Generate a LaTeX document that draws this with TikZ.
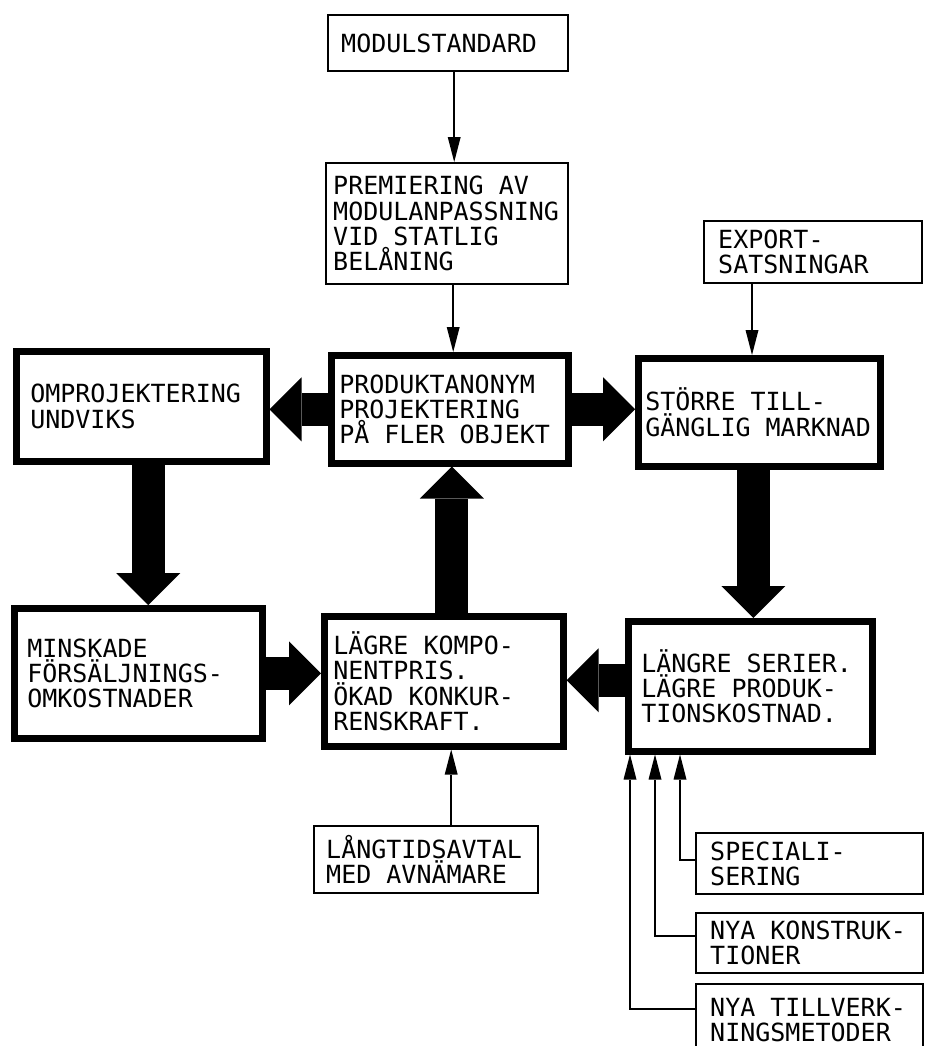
\documentclass[tikz,border=0pt]{standalone}
\usepackage{fontspec}
\newfontfamily\boxfont{DejaVu Sans Mono}
\usetikzlibrary{arrows.meta}
\newcommand\boxtext{\boxfont\fontsize{25}{25.3}\selectfont\spaceskip=15.05pt\relax}

\tikzstyle{box} = [draw,line width=2.4pt,anchor=north west,align=flush left,inner ysep=4pt,font=\boxtext]
\tikzstyle{bigbox} = [box,line width=6.5pt]
\tikzstyle{fat} = [line width=33pt,-{Triangle[length=32pt,width=64pt,line width=0pt]}]
\tikzstyle{feed} = [line width=1.6pt,-{Triangle[length=25pt,width=13pt,line width=0pt]}]

\begin{document}
\begin{tikzpicture}[x=1pt,y=-1pt]
\useasboundingbox (0,0) rectangle (924,1046);

% boxes
\node[box,inner xsep=13pt,text width=214pt,minimum height=56pt] (modul) at (327,14) {MODULSTANDARD};
\node[box,inner xsep=7pt,text width=228pt,minimum height=121pt] (prem) at (325,162) {PREMIERING AV\\MODULANPASSNING\\VID STATLIG\\BELÅNING};
\node[box,inner xsep=14pt,text width=190pt,minimum height=62pt] (export) at (703,220) {EXPORT-\\SATSNINGAR};

\node[bigbox,inner xsep=14pt,text width=222pt,minimum height=110pt] (omproj) at (13,348) {OMPROJEKTERING\\UNDVIKS};
\node[bigbox,inner xsep=8pt,text width=221pt,minimum height=108pt] (prod) at (328,352) {PRODUKTANONYM\\PROJEKTERING\\PÅ FLER OBJEKT};
\node[bigbox,inner xsep=7pt,text width=228pt,minimum height=108pt] (stor) at (635,355) {STÖRRE TILL-\\GÄNGLIG MARKNAD};

\node[bigbox,inner xsep=13pt,text width=222pt,minimum height=130pt] (mins) at (11,605) {MINSKADE\\FÖRSÄLJNINGS-\\OMKOSTNADER};
\node[bigbox,inner xsep=9pt,text width=221pt,minimum height=130pt] (kompo) at (321,613) {LÄGRE KOMPO-\\NENTPRIS.\\ÖKAD KONKUR-\\RENSKRAFT.};
\node[bigbox,inner xsep=13pt,text width=218pt,minimum height=130pt] (serie) at (625,618) {LÄNGRE SERIER.\\LÄGRE PRODUK-\\TIONSKOSTNAD.};

\node[box,inner xsep=12pt,text width=200pt,minimum height=67pt] (avtal) at (313,825) {LÅNGTIDSAVTAL\\MED AVNÄMARE};
\node[box,inner xsep=14pt,text width=199pt,minimum height=61pt] (spec) at (695,832) {SPECIALI-\\SERING};
\node[box,inner xsep=14pt,text width=199pt,minimum height=60pt] (konstr) at (695,912) {NYA KONSTRUK-\\TIONER};
\node[box,inner xsep=14pt,text width=199pt,minimum height=72pt] (tillv) at (695,983) {NYA TILLVERK-\\NINGSMETODER};

% thin arrows
\draw[feed] ([xshift=6pt]modul.south) -- ([xshift=6pt]modul.south |- prem.north);
\draw[feed] ([xshift=6pt]prem.south) -- ([xshift=6pt]prem.south |- prod.north);
\draw[feed] ([xshift=49pt]export.south west) -- ([xshift=49pt]export.south west |- stor.north);
\draw[feed] ([xshift=25pt]avtal.north) -- ([xshift=25pt]avtal.north |- kompo.south);
\draw[feed] ([yshift=4pt]spec.west) -| ([xshift=55pt]serie.south west);
\draw[feed] ([yshift=7pt]konstr.west) -| ([xshift=30pt]serie.south west);
\draw[feed] ([yshift=11pt]tillv.west) -| ([xshift=5pt]serie.south west);

% fat arrows
\draw[fat] (prod.west) -- (prod.west -| omproj.east);
\draw[fat] (prod.east) -- (prod.east -| stor.west);
\draw[fat] ([xshift=7pt]omproj.south) -- ([xshift=7pt]omproj.south |- mins.north);
\draw[fat] ([xshift=8pt]kompo.north) -- ([xshift=8pt]kompo.north |- prod.south);
\draw[fat] ([xshift=-6pt]stor.south) -- ([xshift=-6pt]stor.south |- serie.north);
\draw[fat] (mins.east) -- (mins.east -| kompo.west);
\draw[fat] ([yshift=6pt]serie.west) -- ([yshift=6pt]serie.west -| kompo.east);

\end{tikzpicture}
\end{document}
